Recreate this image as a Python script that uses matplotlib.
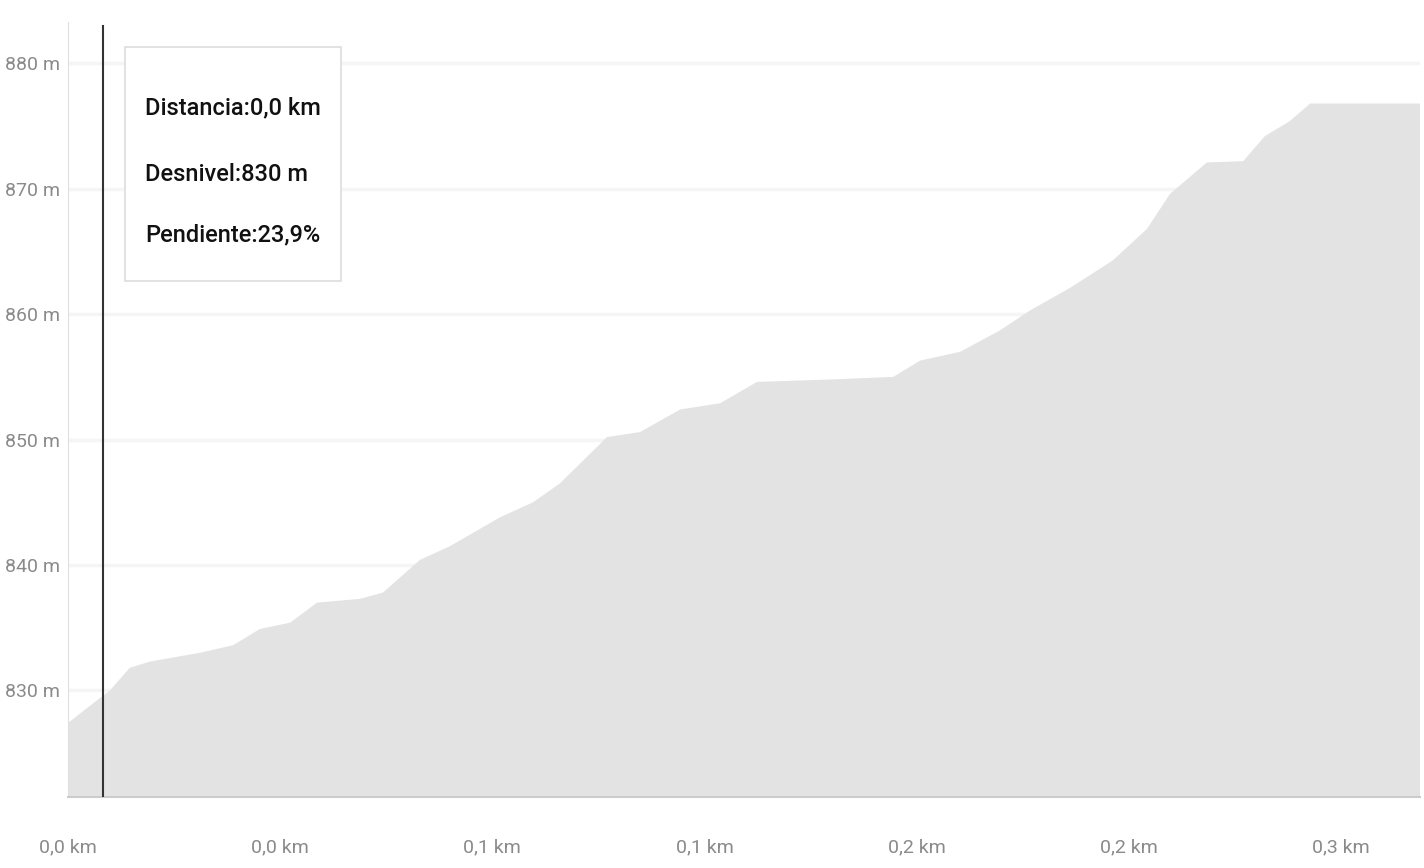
import matplotlib
matplotlib.use("Agg")
import matplotlib.pyplot as plt
from matplotlib.patches import Rectangle

# Elevation profile (distance in km, elevation in m)
distance_km = [0.0, 0.0068, 0.0089, 0.0131, 0.0174, 0.0280, 0.0350, 0.0407, 0.0471,
               0.0528, 0.0619, 0.0668, 0.0746, 0.0810, 0.0916, 0.0986, 0.1043, 0.1143,
               0.1213, 0.1298, 0.1383, 0.1461, 0.1622, 0.1750, 0.1807, 0.1892, 0.1976,
               0.2040, 0.2125, 0.2216, 0.2288, 0.2337, 0.2415, 0.2492, 0.2538, 0.2591,
               0.2634, 0.2867]
elevation_m = [827.4, 829.4, 830.0, 831.8, 832.3, 833.0, 833.6, 834.9, 835.4,
               837.0, 837.3, 837.8, 840.4, 841.5, 843.8, 845.0, 846.5, 850.2,
               850.6, 852.4, 852.9, 854.6, 854.8, 855.0, 856.3, 857.0, 858.7,
               860.3, 862.1, 864.3, 866.8, 869.6, 872.1, 872.2, 874.2, 875.4,
               876.8, 876.8]

x_ticks = [0.0, 0.045, 0.09, 0.135, 0.18, 0.225, 0.27]
x_tick_labels = ["0,0 km", "0,0 km", "0,1 km", "0,1 km", "0,2 km", "0,2 km", "0,3 km"]
y_ticks = [830, 840, 850, 860, 870, 880]
y_tick_labels = ["830 m", "840 m", "850 m", "860 m", "870 m", "880 m"]

cursor_km = 0.0074
tooltip_lines = ["Distancia:0,0 km", "Desnivel:830 m", "Pendiente:23,9%"]

plt.rcParams["font.family"] = ["Roboto", "DejaVu Sans"]

fig = plt.figure(figsize=(14.24, 8.68), dpi=100)
ax = fig.add_axes([68 / 1424, 1 - 797 / 868, 1352 / 1424, 775 / 868])

ax.fill_between(distance_km, elevation_m, 800, color="#e3e3e3", linewidth=0, zorder=2)

for yv in y_ticks:
    ax.axhline(yv, color="#f5f5f5", linewidth=2.5, zorder=1)

ax.set_xlim(0, 0.2867)
ax.set_ylim(821.5, 883.3)

ax.set_xticks(x_ticks)
ax.set_xticklabels(x_tick_labels)
ax.set_yticks(y_ticks)
ax.set_yticklabels(y_tick_labels)
ax.tick_params(axis="both", length=0, colors="#8a8a8a", labelsize=14)
ax.tick_params(axis="x", pad=30)
ax.tick_params(axis="y", pad=6)

for side in ["top", "right"]:
    ax.spines[side].set_visible(False)
ax.spines["left"].set_color("#e0e0e0")
ax.spines["bottom"].set_color("#cccccc")
ax.spines["bottom"].set_linewidth(1.5)

# hover cursor
ax.plot([cursor_km, cursor_km], [821.5, 883.0], color="#333333", linewidth=1.5, zorder=5)

# tooltip box
box = Rectangle((0.0422, 0.6658), 0.1597, 0.3019, transform=ax.transAxes,
                facecolor="white", edgecolor="#dddddd", linewidth=1.2, zorder=6)
ax.add_patch(box)
for line, ty in zip(tooltip_lines, [0.889, 0.8026, 0.7252]):
    ax.text(0.0570, ty, line, transform=ax.transAxes, fontsize=17, color="#111111",
            fontweight="medium", va="center", ha="left", zorder=7)

fig.savefig("out.png", dpi=100, facecolor="white")
